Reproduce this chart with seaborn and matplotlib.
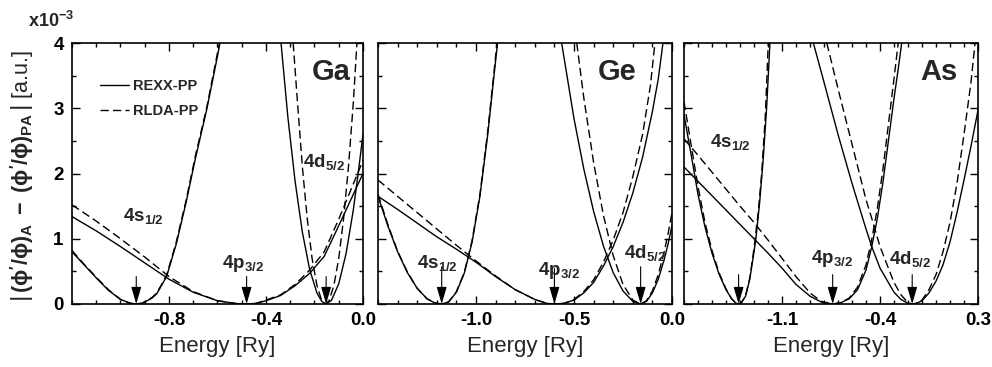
import numpy as np
import pandas as pd
import matplotlib
matplotlib.use("Agg")
import matplotlib.pyplot as plt
import seaborn as sns
from matplotlib.ticker import MultipleLocator
from matplotlib.lines import Line2D

# ---------------- data ----------------
methods = ["REXX-PP", "RLDA-PP"]
orbitals = ["4s", "4p", "4d"]
orbital_labels = [r"$\mathbf{4s_{1/2}}$", r"$\mathbf{4p_{3/2}}$", r"$\mathbf{4d_{5/2}}$"]
panels = ["Ga", "Ge", "As"]

# Ga
ga_4s_rexx_x = [-1.2, -1.15, -1.10, -1.05, -1.00, -0.96, -0.935, -0.91, -0.87, -0.85, -0.81, -0.77, -0.73, -0.69, -0.645, -0.60, -0.59]
ga_4s_rexx_y = [0.80, 0.60, 0.40, 0.21, 0.07, 0.012, 0.0, 0.012, 0.09, 0.16, 0.42, 0.92, 1.55, 2.25, 2.97, 3.8, 4.0]
ga_4s_rlda_x = [-1.2, -1.15, -1.10, -1.05, -1.00, -0.96, -0.935, -0.91, -0.87, -0.85, -0.81, -0.77, -0.73, -0.69, -0.645, -0.60, -0.592]
ga_4s_rlda_y = [0.82, 0.61, 0.41, 0.22, 0.07, 0.012, 0.0, 0.013, 0.10, 0.17, 0.44, 0.95, 1.58, 2.29, 3.0, 3.85, 4.0]
ga_4p_rexx_x = [-1.2, -1.1, -1.0, -0.9, -0.8, -0.7, -0.6, -0.52, -0.48, -0.44, -0.40, -0.34, -0.28, -0.22, -0.16, -0.10, -0.05, 0.0]
ga_4p_rexx_y = [1.34, 1.12, 0.88, 0.63, 0.38, 0.18, 0.05, 0.005, 0.0, 0.01, 0.05, 0.13, 0.28, 0.47, 0.73, 1.2, 1.6, 2.0]
ga_4p_rlda_x = [-1.2, -1.1, -1.0, -0.9, -0.8, -0.7, -0.6, -0.52, -0.48, -0.44, -0.40, -0.34, -0.28, -0.22, -0.16, -0.10, -0.05, 0.0]
ga_4p_rlda_y = [1.52, 1.27, 1.0, 0.72, 0.42, 0.19, 0.05, 0.005, 0.0, 0.01, 0.06, 0.14, 0.30, 0.52, 0.80, 1.3, 1.75, 2.2]
ga_4d_rexx_x = [-0.338, -0.31, -0.28, -0.25, -0.22, -0.19, -0.17, -0.152, -0.13, -0.10, -0.07, -0.04, -0.02, 0.0]
ga_4d_rexx_y = [4.0, 2.87, 1.88, 1.1, 0.53, 0.17, 0.04, 0.0, 0.056, 0.31, 0.77, 1.44, 2.0, 2.6]
ga_4d_rlda_x = [-0.288, -0.27, -0.25, -0.23, -0.21, -0.19, -0.17, -0.155, -0.14, -0.12, -0.10, -0.08, -0.06, -0.04, -0.025]
ga_4d_rlda_y = [4.0, 3.08, 2.1, 1.31, 0.70, 0.285, 0.05, 0.0, 0.05, 0.285, 0.70, 1.31, 2.1, 3.08, 4.0]

# Ge
ge_4s_rexx_x = [-1.5, -1.45, -1.40, -1.35, -1.30, -1.25, -1.21, -1.175, -1.14, -1.10, -1.06, -1.02, -0.98, -0.94, -0.91, -0.89]
ge_4s_rexx_y = [1.65, 1.2, 0.80, 0.48, 0.24, 0.08, 0.015, 0.0, 0.03, 0.18, 0.47, 0.95, 1.65, 2.6, 3.45, 4.0]
ge_4s_rlda_x = [-1.5, -1.45, -1.40, -1.35, -1.30, -1.25, -1.21, -1.175, -1.14, -1.10, -1.06, -1.02, -0.98, -0.94, -0.91, -0.893]
ge_4s_rlda_y = [1.68, 1.22, 0.81, 0.49, 0.24, 0.08, 0.015, 0.0, 0.03, 0.19, 0.48, 0.97, 1.68, 2.65, 3.5, 4.0]
ge_4p_rexx_x = [-1.5, -1.4, -1.3, -1.2, -1.1, -1.0, -0.9, -0.8, -0.7, -0.64, -0.60, -0.55, -0.5, -0.45, -0.4, -0.35, -0.3, -0.25, -0.2, -0.15, -0.10, -0.07, -0.046]
ge_4p_rexx_y = [1.65, 1.45, 1.24, 1.03, 0.84, 0.64, 0.42, 0.22, 0.07, 0.01, 0.0, 0.01, 0.06, 0.17, 0.33, 0.58, 0.88, 1.25, 1.7, 2.25, 2.95, 3.45, 4.0]
ge_4p_rlda_x = [-1.5, -1.4, -1.3, -1.2, -1.1, -1.0, -0.9, -0.8, -0.7, -0.64, -0.60, -0.55, -0.5, -0.45, -0.4, -0.35, -0.3, -0.25, -0.2, -0.15, -0.11, -0.087]
ge_4p_rlda_y = [1.9, 1.65, 1.40, 1.15, 0.9, 0.66, 0.43, 0.22, 0.07, 0.01, 0.0, 0.01, 0.07, 0.19, 0.37, 0.64, 0.98, 1.4, 1.95, 2.6, 3.35, 4.0]
ge_4d_rexx_x = [-0.563, -0.5, -0.45, -0.4, -0.35, -0.3, -0.25, -0.2, -0.16, -0.13, -0.10, -0.07, -0.04, -0.02, 0.0]
ge_4d_rexx_y = [4.0, 2.84, 2.07, 1.42, 0.89, 0.48, 0.2, 0.04, 0.0, 0.04, 0.17, 0.38, 0.68, 0.92, 1.2]
ge_4d_rlda_x = [-0.486, -0.45, -0.4, -0.35, -0.3, -0.25, -0.2, -0.16, -0.13, -0.10, -0.07, -0.04, -0.02, 0.0]
ge_4d_rlda_y = [4.0, 3.16, 2.17, 1.36, 0.74, 0.30, 0.06, 0.0, 0.05, 0.2, 0.45, 0.8, 1.08, 1.4]

# As
as_4s_rexx_x = [-1.8, -1.75, -1.70, -1.65, -1.60, -1.55, -1.50, -1.46, -1.43, -1.41, -1.39, -1.36, -1.33, -1.30, -1.286, -1.26, -1.235, -1.21, -1.186]
as_4s_rexx_y = [2.9, 2.3, 1.68, 1.18, 0.78, 0.46, 0.22, 0.08, 0.015, 0.0, 0.02, 0.12, 0.38, 0.80, 1.01, 1.55, 2.2, 3.0, 4.0]
as_4s_rlda_x = [-1.8, -1.75, -1.70, -1.65, -1.60, -1.55, -1.50, -1.46, -1.43, -1.41, -1.39, -1.36, -1.33, -1.30, -1.27, -1.245, -1.22, -1.198]
as_4s_rlda_y = [3.1, 2.45, 1.8, 1.25, 0.82, 0.48, 0.23, 0.08, 0.015, 0.0, 0.02, 0.13, 0.40, 0.85, 1.4, 2.0, 2.85, 4.0]
as_4p_rexx_x = [-1.8, -1.7, -1.6, -1.5, -1.4, -1.3, -1.2, -1.1, -1.0, -0.9, -0.82, -0.738, -0.68, -0.62, -0.56, -0.50, -0.459, -0.42, -0.38, -0.34, -0.30, -0.27, -0.245]
as_4p_rexx_y = [2.1, 1.88, 1.66, 1.44, 1.22, 1.0, 0.78, 0.55, 0.3, 0.12, 0.03, 0.0, 0.02, 0.08, 0.22, 0.52, 0.88, 1.3, 1.85, 2.5, 3.15, 3.6, 4.0]
as_4p_rlda_x = [-1.8, -1.7, -1.6, -1.5, -1.4, -1.3, -1.2, -1.1, -1.0, -0.9, -0.82, -0.738, -0.68, -0.62, -0.56, -0.50, -0.46, -0.42, -0.38, -0.34, -0.30, -0.27]
as_4p_rlda_y = [2.53, 2.28, 2.02, 1.76, 1.5, 1.25, 0.98, 0.7, 0.42, 0.17, 0.04, 0.0, 0.02, 0.09, 0.26, 0.6, 0.98, 1.45, 2.05, 2.75, 3.45, 4.0]
as_4d_rexx_x = [-0.876, -0.8, -0.7, -0.6, -0.5, -0.459, -0.4, -0.3, -0.25, -0.2, -0.17, -0.14, -0.1, -0.05, 0.0, 0.05, 0.1, 0.15, 0.2, 0.25, 0.3]
as_4d_rexx_y = [4.0, 3.4, 2.6, 1.85, 1.15, 0.88, 0.55, 0.18, 0.07, 0.01, 0.0, 0.01, 0.05, 0.17, 0.35, 0.6, 0.95, 1.4, 1.9, 2.42, 2.97]
as_4d_rlda_x = [-0.78, -0.7, -0.6, -0.5, -0.45, -0.4, -0.3, -0.25, -0.2, -0.17, -0.14, -0.1, -0.05, 0.0, 0.05, 0.1, 0.15, 0.2, 0.25, 0.279]
as_4d_rlda_y = [4.0, 3.3, 2.45, 1.6, 1.25, 0.88, 0.33, 0.14, 0.02, 0.0, 0.01, 0.06, 0.22, 0.45, 0.8, 1.25, 1.85, 2.6, 3.4, 4.0]

# reference energies (arrows) per panel
ga_ref = [-0.935, -0.48, -0.152]
ge_ref = [-1.175, -0.60, -0.16]
as_ref = [-1.41, -0.738, -0.17]
ga_arrow_top = [0.42, 0.42, 0.42]
ge_arrow_top = [0.57, 0.55, 0.57]
as_arrow_top = [0.45, 0.45, 0.45]

# label positions (data coords) for orbital labels
ga_lab_x = [-0.907, -0.497, -0.161]
ga_lab_y = [1.35, 0.62, 2.17]
ge_lab_x = [-1.196, -0.577, -0.138]
ge_lab_y = [0.63, 0.52, 0.78]
as_lab_x = [-1.468, -0.746, -0.186]
as_lab_y = [2.48, 0.69, 0.69]

xlims = {"Ga": (-1.2, 0.0), "Ge": (-1.5, 0.0), "As": (-1.8, 0.3)}
xmajor = {"Ga": [-0.8, -0.4, 0.0], "Ge": [-1.0, -0.5, 0.0], "As": [-1.1, -0.4, 0.3]}
xticklabels = {"Ga": ["-0.8", "-0.4", "0.0"], "Ge": ["-1.0", "-0.5", "0.0"], "As": ["-1.1", "-0.4", "0.3"]}
yticks = [0, 1, 2, 3, 4]

curves = {
    ("Ga", "4s", "REXX-PP"): (ga_4s_rexx_x, ga_4s_rexx_y),
    ("Ga", "4s", "RLDA-PP"): (ga_4s_rlda_x, ga_4s_rlda_y),
    ("Ga", "4p", "REXX-PP"): (ga_4p_rexx_x, ga_4p_rexx_y),
    ("Ga", "4p", "RLDA-PP"): (ga_4p_rlda_x, ga_4p_rlda_y),
    ("Ga", "4d", "REXX-PP"): (ga_4d_rexx_x, ga_4d_rexx_y),
    ("Ga", "4d", "RLDA-PP"): (ga_4d_rlda_x, ga_4d_rlda_y),
    ("Ge", "4s", "REXX-PP"): (ge_4s_rexx_x, ge_4s_rexx_y),
    ("Ge", "4s", "RLDA-PP"): (ge_4s_rlda_x, ge_4s_rlda_y),
    ("Ge", "4p", "REXX-PP"): (ge_4p_rexx_x, ge_4p_rexx_y),
    ("Ge", "4p", "RLDA-PP"): (ge_4p_rlda_x, ge_4p_rlda_y),
    ("Ge", "4d", "REXX-PP"): (ge_4d_rexx_x, ge_4d_rexx_y),
    ("Ge", "4d", "RLDA-PP"): (ge_4d_rlda_x, ge_4d_rlda_y),
    ("As", "4s", "REXX-PP"): (as_4s_rexx_x, as_4s_rexx_y),
    ("As", "4s", "RLDA-PP"): (as_4s_rlda_x, as_4s_rlda_y),
    ("As", "4p", "REXX-PP"): (as_4p_rexx_x, as_4p_rexx_y),
    ("As", "4p", "RLDA-PP"): (as_4p_rlda_x, as_4p_rlda_y),
    ("As", "4d", "REXX-PP"): (as_4d_rexx_x, as_4d_rexx_y),
    ("As", "4d", "RLDA-PP"): (as_4d_rlda_x, as_4d_rlda_y),
}
refs = {"Ga": (ga_ref, ga_arrow_top), "Ge": (ge_ref, ge_arrow_top), "As": (as_ref, as_arrow_top)}
labpos = {"Ga": (ga_lab_x, ga_lab_y), "Ge": (ge_lab_x, ge_lab_y), "As": (as_lab_x, as_lab_y)}

rows = []
for (panel, orb, meth), (xs, ys) in curves.items():
    for i, (xv, yv) in enumerate(zip(xs, ys)):
        rows.append(dict(panel=panel, orbital=orb, method=meth, energy=xv, value=yv, order=i))
df = pd.DataFrame(rows)

# ---------------- styling ----------------
sns.set_theme(style="ticks")
plt.rcParams["font.family"] = ["Liberation Sans", "DejaVu Sans"]
plt.rcParams["mathtext.fontset"] = "custom"
plt.rcParams["mathtext.rm"] = "Liberation Sans"
plt.rcParams["mathtext.it"] = "Liberation Sans:italic"
plt.rcParams["mathtext.bf"] = "Liberation Sans:bold"
plt.rcParams["axes.linewidth"] = 1.2

fig = plt.figure(figsize=(9.92, 3.67), dpi=100)
W, H = 992.0, 367.0
bottom = 1 - 304 / H
height = (304 - 43) / H
lefts = [72, 378, 684]
rights = [363, 672, 978]
dashes = {"REXX-PP": "", "RLDA-PP": (6, 3)}

label_axes_pos = {"Ga": (0.89, 0.889), "Ge": (0.813, 0.889), "As": (0.867, 0.889)}

for k, panel in enumerate(panels):
    ax = fig.add_axes([lefts[k] / W, bottom, (rights[k] - lefts[k]) / W, height])
    sub = df[df.panel == panel]
    sns.lineplot(data=sub, x="energy", y="value", style="method", units="orbital",
                 estimator=None, sort=False, color="black", dashes=dashes,
                 lw=1.0, legend=False, ax=ax)
    ax.set_xlim(*xlims[panel])
    ax.set_ylim(0, 4)
    ax.set_xticks(xmajor[panel], xticklabels[panel], fontweight="bold", fontsize=13.5)
    ax.xaxis.set_minor_locator(MultipleLocator(0.1))
    ax.set_yticks(yticks, [str(t) for t in yticks], fontweight="bold", fontsize=13.5)
    ax.yaxis.set_minor_locator(MultipleLocator(0.5))
    ax.tick_params(which="both", direction="in", top=True, right=True, width=1.0, colors="black")
    ax.tick_params(which="major", length=6, pad=6)
    ax.tick_params(which="minor", length=3)
    if k > 0:
        ax.tick_params(axis="y", labelleft=False)
    ax.set_xlabel("Energy [Ry]", fontsize=16, labelpad=5)
    ax.set_ylabel("")
    for s in ax.spines.values():
        s.set_color("black")
        s.set_linewidth(1.2)

    xs_ref, tops = refs[panel]
    for xr, top in zip(xs_ref, tops):
        ax.annotate("", xy=(xr, 0), xytext=(xr, top),
                    arrowprops=dict(arrowstyle="-|>,head_length=0.75,head_width=0.22",
                                    color="black", lw=0.8,
                                    mutation_scale=14, shrinkA=0, shrinkB=0))
    lx, ly = labpos[panel]
    for txt, xv, yv in zip(orbital_labels, lx, ly):
        ax.text(xv, yv, txt, ha="center", va="center", fontsize=13.5)
    px, py = label_axes_pos[panel]
    ax.text(px, py, panel, transform=ax.transAxes, ha="center", va="center",
            fontsize=21, fontweight="bold")

    if k == 0:
        handles = [Line2D([], [], color="black", lw=1.0, ls="-"),
                   Line2D([], [], color="black", lw=1.0, dashes=(6, 3))]
        ax.legend(handles, methods, loc="upper left", bbox_to_anchor=(0.06, 0.9),
                  frameon=False, prop=dict(weight="bold", size=10.5),
                  handlelength=2.0, handletextpad=0.3, labelspacing=0.75,
                  borderpad=0.2)

fig.text(22 / W, 0.52,
         r"$\left|\,\mathbf{(\phi'/\phi)_{A}\ -\ (\phi'/\phi)_{PA}}\,\right|$ [a.u.]",
         rotation=90, ha="center", va="center", fontsize=15.5)
fig.text(28 / W, 1 - 27 / H, r"x10$^{\mathbf{-3}}$", fontsize=13, fontweight="bold",
         ha="left", va="baseline")

fig.savefig("out.png", dpi=100)
